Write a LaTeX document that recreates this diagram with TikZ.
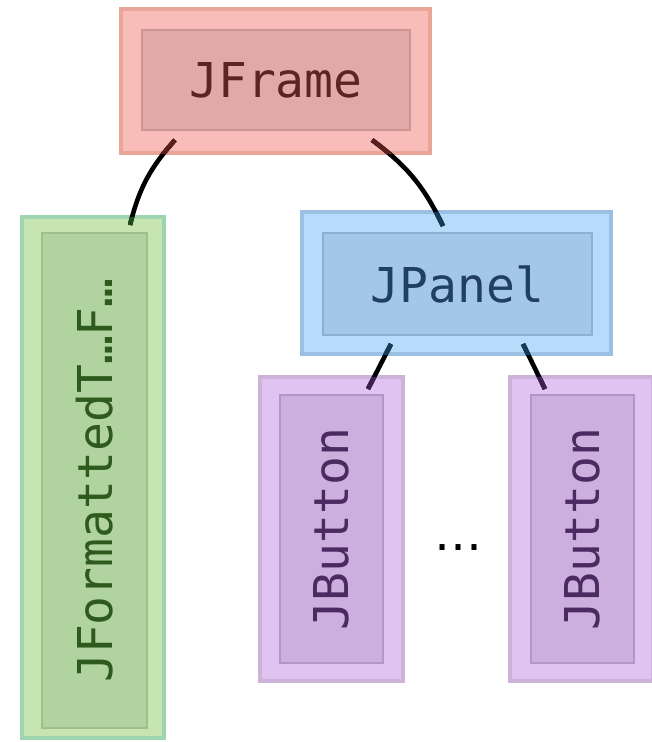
\documentclass[tikz,border=0pt]{standalone}
\usepackage{fontspec}
\newfontfamily\monofont{DejaVu Sans Mono}
\newfontfamily\dvsfont{DejaVu Sans}
\definecolor{rOF}{HTML}{F8BCB9}\definecolor{rOB}{HTML}{E8A598}
\definecolor{rIF}{HTML}{E1A9A8}\definecolor{rIB}{HTML}{CC9694}\definecolor{rT}{HTML}{5C2422}
\definecolor{gOF}{HTML}{C6E5B1}\definecolor{gOB}{HTML}{9FD4B0}
\definecolor{gIF}{HTML}{B1D3A0}\definecolor{gIB}{HTML}{9DBF8D}\definecolor{gT}{HTML}{2F5A1E}
\definecolor{bOF}{HTML}{B7DBFB}\definecolor{bOB}{HTML}{9BC0E3}
\definecolor{bIF}{HTML}{A3C7E9}\definecolor{bIB}{HTML}{8EB1D0}\definecolor{bT}{HTML}{21405F}
\definecolor{pOF}{HTML}{E0C3F1}\definecolor{pOB}{HTML}{CBB3DA}
\definecolor{pIF}{HTML}{CCAFDE}\definecolor{pIB}{HTML}{B396C6}\definecolor{pT}{HTML}{4B2A62}
\definecolor{rTint}{HTML}{5A1E1E}\definecolor{gTint}{HTML}{1E4A1E}
\definecolor{bTint}{HTML}{183A5A}\definecolor{pTint}{HTML}{3E1E55}
\begin{document}
\begin{tikzpicture}[x=1pt,y=-1pt,
  outerbox/.style={draw, line width=4pt, inner sep=0pt, outer sep=0pt},
  innerbox/.style={draw, line width=2pt, inner sep=0pt, outer sep=0pt,
    font=\monofont\fontsize{48}{58}\selectfont},
  conn/.style={line width=4.6pt, black}]
\useasboundingbox (0,0) rectangle (651,742);
% JFrame
\node[outerbox, fill=rOF, draw=rOB, minimum width=309pt, minimum height=144pt] (fo) at (275.5,81) {};
\node[innerbox, fill=rIF, draw=rIB, text=rT, minimum width=268pt, minimum height=100pt] (fi) at (276,80) {\raisebox{-4pt}{JFrame}};
% JFormattedTextField
\node[outerbox, fill=gOF, draw=gOB, minimum width=142pt, minimum height=521pt] (go) at (93,477.5) {};
\node[innerbox, fill=gIF, draw=gIB, text=gT, rotate=90, minimum width=495pt, minimum height=105pt] (gi) at (94.5,480.5) {\raisebox{-2pt}{JFormattedT…F…}};
% JPanel
\node[outerbox, fill=bOF, draw=bOB, minimum width=309pt, minimum height=142pt] (po) at (456.5,283) {};
\node[innerbox, fill=bIF, draw=bIB, text=bT, minimum width=269pt, minimum height=102pt] (pi) at (457.5,284) {\raisebox{-4pt}{JPanel}};
% JButton 1
\node[outerbox, fill=pOF, draw=pOB, minimum width=143pt, minimum height=304pt] (ao) at (331.5,529) {};
\node[innerbox, fill=pIF, draw=pIB, text=pT, rotate=90, minimum width=268pt, minimum height=103pt] (ai) at (331.5,529) {\raisebox{-2pt}{JButton}};
% JButton 2
\node[outerbox, fill=pOF, draw=pOB, minimum width=143pt, minimum height=304pt] (bo) at (581.5,529) {};
\node[innerbox, fill=pIF, draw=pIB, text=pT, rotate=90, minimum width=268pt, minimum height=103pt] (bi) at (582.5,529) {\raisebox{-2pt}{JButton}};
% ellipsis
\node[font=\dvsfont\fontsize{48}{58}\selectfont, inner sep=0pt] (dots) at (458,548) {…};
% connector end points
\coordinate (c1a) at (175,140); \coordinate (c1b) at (130,225);
\coordinate (c2a) at (372,140); \coordinate (c2b) at (443,226);
\coordinate (c3a) at (391,344); \coordinate (c3b) at (368,389);
\coordinate (c4a) at (523,344); \coordinate (c4b) at (545,389);
\draw[conn] (c1a) to[bend right=14] (c1b);
\draw[conn] (c2a) to[bend left=14] (c2b);
\draw[conn] (c3a) -- (c3b);
\draw[conn] (c4a) -- (c4b);
% tinted parts of connectors seen through the boxes
\begin{scope}\clip (fo.north west) rectangle (fo.south east);
  \draw[conn, rTint] (c1a) to[bend right=14] (c1b);
  \draw[conn, rTint] (c2a) to[bend left=14] (c2b);
\end{scope}
\begin{scope}\clip (go.north west) rectangle (go.south east);
  \draw[conn, gTint] (c1a) to[bend right=14] (c1b);
\end{scope}
\begin{scope}\clip (po.north west) rectangle (po.south east);
  \draw[conn, bTint] (c2a) to[bend left=14] (c2b);
  \draw[conn, bTint] (c3a) -- (c3b);
  \draw[conn, bTint] (c4a) -- (c4b);
\end{scope}
\begin{scope}\clip (ao.north west) rectangle (ao.south east);
  \draw[conn, pTint] (c3a) -- (c3b);
\end{scope}
\begin{scope}\clip (bo.north west) rectangle (bo.south east);
  \draw[conn, pTint] (c4a) -- (c4b);
\end{scope}
\end{tikzpicture}
\end{document}
